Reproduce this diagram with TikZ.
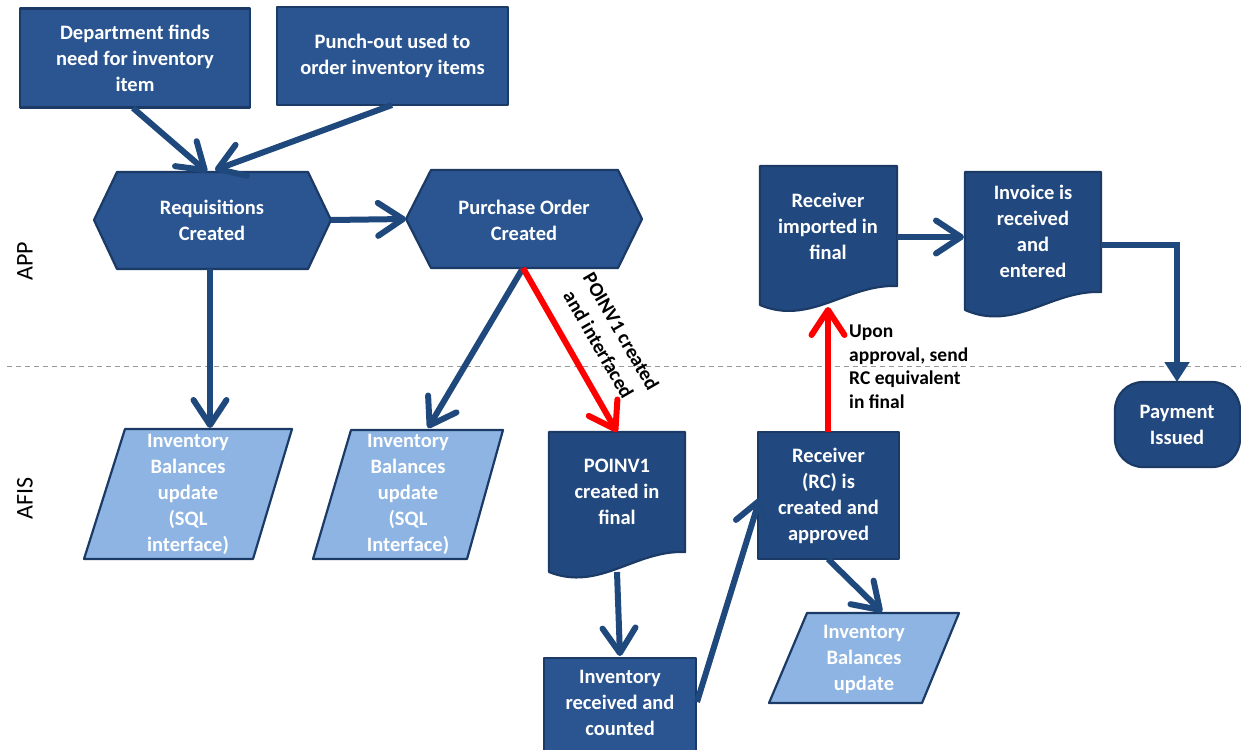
\documentclass[tikz,border=0pt]{standalone}
\usepackage{fontspec}
\setmainfont{Carlito}
\usetikzlibrary{arrows.meta}
\definecolor{boxfill}{HTML}{2A5591}
\definecolor{docfill}{HTML}{22497F}
\definecolor{boxline}{HTML}{1B3A66}
\definecolor{arrcol}{HTML}{1F497D}
\definecolor{lightfill}{HTML}{8DB4E2}
\begin{document}
\begin{tikzpicture}[x=1pt,y=-1pt,
  shp/.style={fill=boxfill,draw=boxline,line width=2.2pt,line join=round},
  docshp/.style={fill=docfill,draw=boxline,line width=2.2pt,line join=round},
  lite/.style={fill=lightfill,draw=boxline,line width=2.2pt,line join=round},
  boxnode/.style={shp,rectangle,inner sep=0pt},
  txt/.style={text=white,font=\fontsize{20.5}{26}\selectfont\bfseries,align=center,inner sep=0pt},
  arr/.style={draw=arrcol,line width=6pt,-{Straight Barb[length=25pt,width=33pt,round]}},
  redarr/.style={arr,draw=red},
  lbl/.style={text=black,font=\fontsize{19.5}{23.5}\selectfont\bfseries,align=left,inner sep=0pt},
  lane/.style={text=black,font=\fontsize{24}{28}\selectfont,rotate=90,inner sep=0pt}]
\useasboundingbox (0,0) rectangle (1241,749);
\fill[white] (0,0) rectangle (1241,749);

% swimlane divider
\coordinate (dl) at (7,366);
\coordinate (dr) at (1241,366);
\draw[gray!80,line width=0.9pt,dash pattern=on 5pt off 4pt] (dl) -- (dr);
\node[lane] (app) at (25,261) {APP};
\node[lane] (afis) at (25,498) {AFIS};

% top boxes
\node[boxnode,minimum width=230pt,minimum height=99pt] (dept) at (135,58) {};
\node[txt] (deptt) at (dept) {Department finds\\need for inventory\\item};
\node[boxnode,minimum width=231pt,minimum height=98pt] (punch) at (392.5,56) {};
\node[txt] (puncht) at (punch) {Punch-out used to\\order inventory items};

% hexagons
\draw[shp] (94,220) -- (117,172) -- (308,172) -- (331,220) -- (308,269) -- (117,269) -- cycle;
\node[txt] (req) at (212,220) {Requisitions\\Created};
\draw[shp] (406,219) -- (431,170) -- (618,170) -- (642,219) -- (618,268) -- (431,268) -- cycle;
\node[txt] (po) at (524,220) {Purchase Order\\Created};

% document shapes
\begin{scope}[shift={(760,166)}]
\draw[docshp] (0,0) -- (137,0) -- (137,120) .. controls (87,118) and (50,160) .. (0,139) -- cycle;
\end{scope}
\node[txt] (recimp) at (828,226) {Receiver\\imported in\\final};
\begin{scope}[shift={(965,172)}]
\draw[docshp] (0,0) -- (136,0) -- (136,120) .. controls (86,118) and (50,160) .. (0,138) -- cycle;
\end{scope}
\node[txt] (inv) at (1033,231) {Invoice is\\received\\and\\entered};
\begin{scope}[shift={(549,432)}]
\draw[docshp] (0,0) -- (136,0) -- (136,120) .. controls (86,118) and (50,160) .. (0,140) -- cycle;
\end{scope}
\node[txt] (poinv) at (617,492) {POINV1\\created in\\final};

% payment terminator
\draw[docshp,rounded corners=28pt] (1115,382) rectangle (1240,467);
\node[txt] (pay) at (1177,425) {Payment\\Issued};

% parallelograms
\draw[lite] (125,429) -- (292,429) -- (253,559) -- (84,559) -- cycle;
\node[txt] (ib1) at (188,494) {Inventory\\Balances\\update\\(SQL\\interface)};
\draw[lite] (351,430) -- (503,430) -- (467,559) -- (313,559) -- cycle;
\node[txt] (ib2) at (408,494) {Inventory\\Balances\\update\\(SQL\\Interface)};
\draw[lite] (807,613) -- (959,613) -- (922,703) -- (769,703) -- cycle;
\node[txt] (ib3) at (864,659) {Inventory\\Balances\\update};

% AFIS boxes
\node[boxnode,fill=docfill,minimum width=141pt,minimum height=127pt] (rc) at (828.5,495.5) {};
\node[txt] (rct) at (rc) {Receiver\\(RC) is\\created and\\approved};
\node[boxnode,minimum width=152pt,minimum height=100pt] (irc) at (620,708) {};
\node[txt] (irct) at (620,703) {Inventory\\received and\\counted};

% connector end points
\coordinate (deptS) at (133,108);
\coordinate (reqT1) at (207,172);
\coordinate (punchS) at (392,105);
\coordinate (reqT2) at (215,170);
\coordinate (reqR) at (331,220);
\coordinate (poL) at (406,219);
\coordinate (reqB) at (210,269);
\coordinate (ib1T) at (210,428);
\coordinate (poB) at (523,268);
\coordinate (ib2T) at (428,428);
\coordinate (poinvT) at (617,432);
\coordinate (poinvB) at (617,572);
\coordinate (ircT) at (620,656);
\coordinate (ircR) at (697,702);
\coordinate (rcL) at (760,498);
\coordinate (rcB) at (828,559);
\coordinate (ib3T) at (882,612);
\coordinate (rcT) at (828,432);
\coordinate (recimpB) at (828,307);
\coordinate (recimpR) at (897,237);
\coordinate (invL) at (964,237);
\coordinate (invR) at (1101,245);
\coordinate (elbow) at (1177,245);
\coordinate (payT) at (1177,382);

% connectors
\draw[arr] (deptS) -- (reqT1);
\draw[arr] (punchS) -- (reqT2);
\draw[arr] (reqR) -- (poL);
\draw[arr] (reqB) -- (ib1T);
\draw[arr] (poB) -- (ib2T);
\draw[redarr] (poB) -- (poinvT);
\draw[arr] (poinvB) -- (ircT);
\draw[arr] (ircR) -- (rcL);
\draw[arr] (rcB) -- (ib3T);
\draw[redarr] (rcT) -- (recimpB);
\draw[arr] (recimpR) -- (invL);
\draw[draw=arrcol,line width=6pt,-{Triangle[length=20pt,width=24pt]}] (invR) -- (elbow) -- (payT);

% labels
\node[text=black,font=\fontsize{20}{26}\selectfont\bfseries,align=center,inner sep=0pt,rotate=-60] (redlbl) at (610,338) {POINV1 created\\and interfaced};
\node[lbl,anchor=north west] (uplbl) at (849,325) {Upon\\approval, send\\RC equivalent\\in final};
\end{tikzpicture}
\end{document}
